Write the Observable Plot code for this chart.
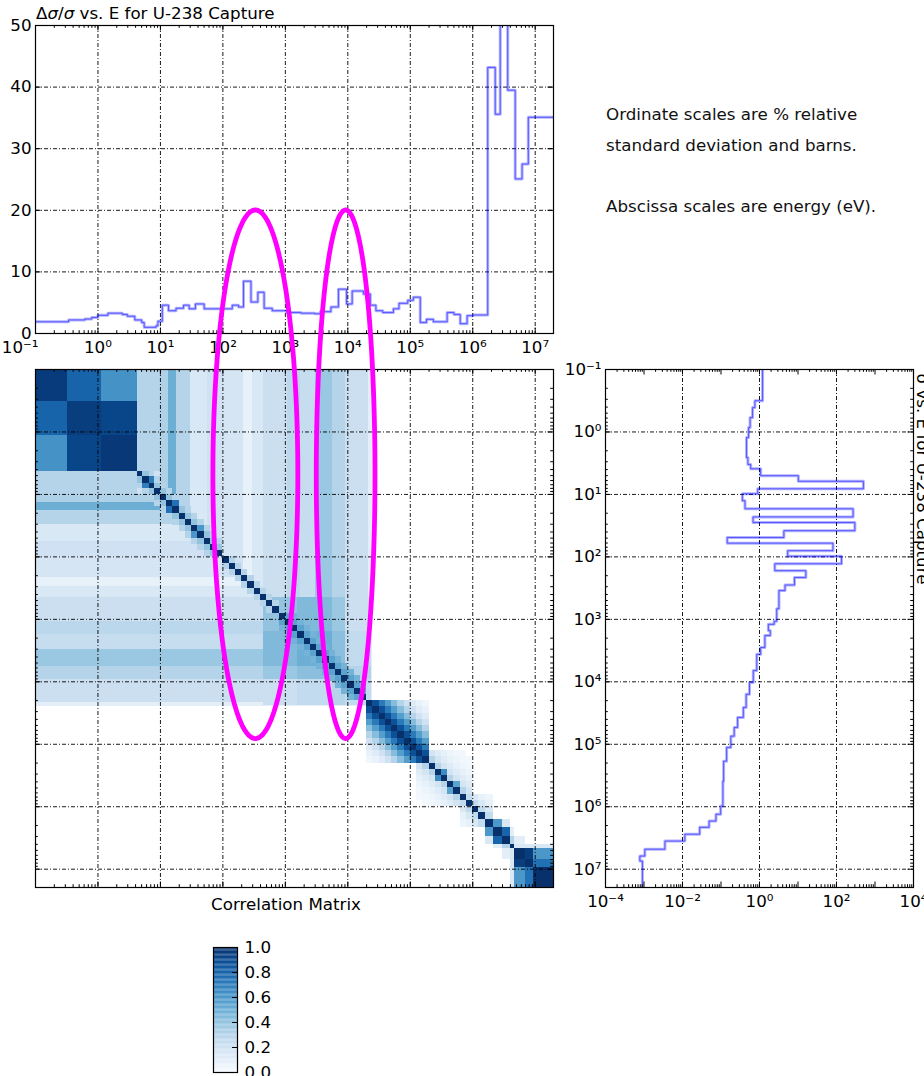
<!DOCTYPE html>
<html><head><meta charset="utf-8">
<script src="https://cdn.jsdelivr.net/npm/d3@7"></script>
<script src="https://cdn.jsdelivr.net/npm/@observablehq/plot@0.6"></script>
<style>
html,body{margin:0;padding:0;background:#fff;overflow:hidden}
#root{position:relative;width:924px;height:1076px;font-family:"DejaVu Sans",sans-serif;color:#000;font-size:16.7px}
.abs{position:absolute}
</style></head><body><div id="root"></div>
<script>
// ================= DATA =================
// Top panel: relative standard deviation (%) of U-238 capture, group edges as log10(E/eV)
const topLogE = [-1, -0.47, -0.21, -0.10, 0, 0.16, 0.39, 0.47, 0.59, 0.70, 0.74, 0.93, 0.96, 1.03, 1.13, 1.25, 1.37, 1.46, 1.56, 1.70, 2.15, 2.25, 2.33, 2.45, 2.56, 2.66, 2.79, 3.02, 3.25, 3.47, 3.56, 3.73, 3.85, 3.98, 4.07, 4.25, 4.36, 4.45, 4.56, 4.73, 4.82, 4.96, 5.05, 5.16, 5.26, 5.37, 5.59, 5.70, 5.80, 5.91, 6.00, 6.24, 6.36, 6.44, 6.56, 6.68, 6.79, 6.89, 7.29];
const topRelStd = [1.9, 2.2, 2.35, 2.6, 2.95, 3.3, 3.1, 2.8, 2.2, 1.8, 1.0, 1.25, 2.0, 4.6, 3.7, 4.1, 4.6, 4.0, 4.8, 4.0, 4.6, 4.3, 8.5, 5.1, 6.7, 4.1, 3.7, 3.4, 3.3, 3.2, 3.55, 4.3, 7.2, 4.8, 6.9, 6.4, 4.6, 3.7, 3.4, 4.0, 4.9, 5.4, 5.9, 1.8, 2.3, 1.9, 3.4, 3.1, 1.6, 2.9, 3.0, 43.2, 35.6, 60, 39.5, 25.1, 27.5, 35.1];

// Right panel: group cross section (barns), group edges as log10(E/eV)
const xsLogE = [-1, -0.50, -0.39, -0.23, -0.07, 0.09, 0.41, 0.52, 0.59, 0.70, 0.79, 0.91, 0.99, 1.10, 1.23, 1.36, 1.45, 1.58, 1.69, 1.78, 1.90, 1.99, 2.11, 2.22, 2.33, 2.45, 2.54, 2.83, 3.03, 3.08, 3.18, 3.26, 3.45, 3.56, 3.82, 4.01, 4.20, 4.41, 4.57, 4.73, 4.87, 5.05, 5.27, 5.59, 5.99, 6.12, 6.23, 6.33, 6.44, 6.55, 6.68, 6.79, 6.87, 7.30];
const xsBarns = [1.2, 0.76, 0.66, 0.57, 0.52, 0.46, 0.50, 0.59, 1.07, 10.2, 500, 0.9, 0.36, 0.42, 270, 0.68, 300, 4.3, 0.145, 81, 5.4, 135, 2.5, 16, 8.1, 4.6, 3.2, 2.8, 2.4, 1.7, 1.9, 1.38, 1.07, 0.85, 0.69, 0.55, 0.45, 0.38, 0.27, 0.22, 0.18, 0.14, 0.117, 0.112, 0.098, 0.074, 0.049, 0.028, 0.0115, 0.0035, 0.00105, 0.00078, 0.00091];

// Correlation matrix (log10 E coordinates)
const corrBackground = [-1, 4.38, 0.2];                     // resolved-region floor: [lo, hi, r]
const bandEdges  = [0.63, 1.0, 1.13, 1.26, 1.48, 1.75, 1.99, 2.33, 2.47, 2.65, 3.03, 3.24, 3.48, 3.75, 3.96, 4.33, 4.40];
const bandValues = [0.3, 0.32, 0.5, 0.3, 0.15, 0.2, 0.17, 0.08, 0.15, 0.22, 0.28, 0.24, 0.38, 0.3, 0.22, 0.1];
const thermalEdges = [-1, -0.49, 0.06, 0.63];
const thermalCorr = [[0.96, 0.8, 0.62], [0.8, 0.95, 0.92], [0.62, 0.92, 0.97]];
const clusterEdges = [2.65, 3.2, 3.75, 3.96, 4.38];
const clusterCorr = [[0.40, 0.45, 0.38, 0.22], [0.45, 0.50, 0.42, 0.25], [0.38, 0.42, 0.40, 0.30], [0.22, 0.25, 0.30, 0.25]];
const groupEdges = [0.63, 0.72, 0.82, 0.91, 1.0, 1.1, 1.2, 1.3, 1.4, 1.5, 1.6, 1.7, 1.8, 1.9, 2.0, 2.1, 2.2, 2.3, 2.4, 2.5, 2.6, 2.7, 2.8, 2.9, 3.0, 3.1, 3.2, 3.3, 3.4, 3.5, 3.6, 3.7, 3.8, 3.9, 4.0, 4.1, 4.2, 4.3, 4.4, 4.5, 4.6, 4.7, 4.8, 4.9, 5.0, 5.1, 5.2, 5.3, 5.4, 5.5, 5.6, 5.7, 5.8, 5.9, 6.0, 6.1, 6.2, 6.33, 6.47, 6.6, 6.67, 6.85, 6.97, 7.29];
// bands hugging the diagonal: [first group, end group, correlation by distance from the diagonal]
const diagBlocks = [
  [0, 14, [1, 0.4, 0.3]],
  [14, 23, [1, 0.3]],
  [23, 37, [1, 0.55, 0.48]],
  [45, 54, [1, 0.3, 0.18, 0.12, 0.08, 0.05, 0.03, 0.02]],
  [37, 47, [1, 0.88, 0.72, 0.57, 0.43, 0.3, 0.2, 0.12, 0.07, 0.04]],
  [52, 57, [1, 0.25, 0.15, 0.08, 0.05]]
];
const groupPairs = [[1, 2, 0.7], [5, 6, 0.75], [9, 10, 0.6], [48, 49, 0.65], [50, 51, 0.55],
  [56, 57, 0.6], [57, 58, 0.8], [56, 58, 0.15], [57, 59, 0.1], [58, 59, 0.3], [58, 60, 0.1],
  [59, 60, 0.15], [59, 61, 0.15], [59, 62, 0.15], [60, 61, 0.95], [60, 62, 0.6], [61, 62, 0.75]];

// Colorbar ticks
const cbarTicks = [0, 0.2, 0.4, 0.6, 0.8, 1.0];

// Annotation ellipses: centre and half-width in decades of energy, vertical extent on the Δσ/σ (%) axis
const ellipseCenterLogE = [2.52, 3.965];
const ellipseHalfWidth = [0.68, 0.47];
const ellipseTopPct = 20.05;
const ellipseBottomPct = -65.75;

// ================= HELPERS =================
const Emin = 0.1, Emax = 10 ** 7.293;
const SUP = {"-": "⁻", "0": "⁰", "1": "¹", "2": "²", "3": "³", "4": "⁴", "5": "⁵", "6": "⁶", "7": "⁷", "8": "⁸", "9": "⁹"};
const pow10 = d => "10" + String(Math.round(Math.log10(d))).split("").map(c => SUP[c]).join("");
const svgStyle = "font-family: 'DejaVu Sans', sans-serif; font-size: 16.7px; background: transparent; overflow: visible; color: #000;";
const gridStyle = {stroke: "#000", strokeWidth: 1, strokeOpacity: 0.9, strokeDasharray: "4,2,1,2"};
const decades = (a, b) => d3.range(a, b + 1).map(e => 10 ** e);
function logMinor(a, b, min, max) {
  const out = [];
  for (let e = a; e <= b; e++) for (let k = 2; k <= 9; k++) { const v = k * 10 ** e; if (v > min && v < max) out.push(v); }
  return out;
}
function frameTicks({xMajor = [], xMinor = [], yMajor = [], yMinor = [], fw, fh, major = 5.5, minor = 2.8}) {
  const s = {stroke: "#000", strokeWidth: 1};
  return [
    Plot.ruleX(xMajor, {...s, insetTop: fh - major}), Plot.ruleX(xMajor, {...s, insetBottom: fh - major}),
    Plot.ruleX(xMinor, {...s, insetTop: fh - minor}), Plot.ruleX(xMinor, {...s, insetBottom: fh - minor}),
    Plot.ruleY(yMajor, {...s, insetLeft: fw - major}), Plot.ruleY(yMajor, {...s, insetRight: fw - major}),
    Plot.ruleY(yMinor, {...s, insetLeft: fw - minor}), Plot.ruleY(yMinor, {...s, insetRight: fw - minor})
  ];
}
const root = document.getElementById("root");
function place(node, left, top, w, h) {
  const d = document.createElement("div");
  d.className = "abs"; d.style.left = left + "px"; d.style.top = top + "px";
  if (w) d.style.width = w + "px"; if (h) d.style.height = h + "px";
  if (typeof node === "string") d.innerHTML = node; else d.appendChild(node);
  root.appendChild(d); return d;
}

// ================= TOP PANEL =================
const topPts = topRelStd.map((v, i) => ({E: 10 ** topLogE[i], v}));
topPts.push({E: 10 ** topLogE[topLogE.length - 1], v: topRelStd[topRelStd.length - 1]});
const topPlot = Plot.plot({
  width: 560, height: 365, marginLeft: 35, marginRight: 7, marginTop: 25, marginBottom: 32,
  style: svgStyle,
  x: {type: "log", domain: [Emin, Emax], ticks: decades(0, 7), tickFormat: pow10, tickSize: 0, tickPadding: 8, label: null},
  y: {domain: [0, 50], ticks: [0, 10, 20, 30, 40, 50], tickSize: 0, tickPadding: 4, label: null},
  marks: [
    Plot.ruleX(decades(0, 7), gridStyle),
    Plot.ruleY([10, 20, 30, 40], gridStyle),
    Plot.line(topPts, {x: "E", y: "v", curve: "step-after", stroke: "#0000ff", strokeOpacity: 0.3, strokeWidth: 3, clip: true}),
    Plot.line(topPts, {x: "E", y: "v", curve: "step-after", stroke: "#0000ff", strokeOpacity: 0.5, strokeWidth: 1, clip: true}),
    ...frameTicks({xMajor: decades(-1, 7), xMinor: logMinor(-1, 7, Emin, Emax), yMajor: [0, 10, 20, 30, 40, 50], fw: 518, fh: 308}),
    Plot.frame({stroke: "#000", strokeWidth: 1.2}),
    Plot.text([Emin], {x: d => d, text: pow10, frameAnchor: "bottom", textAnchor: "end", lineAnchor: "top", dx: 3, dy: 8, fill: "#000"})
  ]
});
place(topPlot, 0, 0, 560, 365);

// ================= MATRIX =================
const cells = [];
const E = L => 10 ** L;
function addCell(cx1, cx2, ry1, ry2, r) { cells.push({x1: E(cx1), x2: E(cx2), y1: E(ry1), y2: E(ry2), r}); }
function addPair(a1, a2, b1, b2, r) { addCell(a1, a2, b1, b2, r); if (a1 !== b1 || a2 !== b2) addCell(b1, b2, a1, a2, r); }
addCell(corrBackground[0], corrBackground[1], corrBackground[0], corrBackground[1], corrBackground[2]);
bandValues.forEach((r, i) => addPair(bandEdges[i], bandEdges[i + 1], -1, bandEdges[i], r));
thermalCorr.forEach((row, i) => row.forEach((r, j) => addCell(thermalEdges[j], thermalEdges[j + 1], thermalEdges[i], thermalEdges[i + 1], r)));
clusterCorr.forEach((row, i) => row.forEach((r, j) => addCell(clusterEdges[j], clusterEdges[j + 1], clusterEdges[i], clusterEdges[i + 1], r)));
for (const [s, e, fall] of diagBlocks) {
  for (let i = s; i < e; i++) for (let j = s; j < e; j++) {
    const d = Math.abs(i - j);
    if (d < fall.length) addCell(groupEdges[j], groupEdges[j + 1], groupEdges[i], groupEdges[i + 1], fall[d]);
  }
}
for (const [i, j, r] of groupPairs) addPair(groupEdges[i], groupEdges[i + 1], groupEdges[j], groupEdges[j + 1], r);
for (let i = 0; i < groupEdges.length - 1; i++) addCell(groupEdges[i], groupEdges[i + 1], groupEdges[i], groupEdges[i + 1], 1);

const colorScale = {type: "linear", domain: [0, 1], scheme: "blues"};
const matPlot = Plot.plot({
  width: 560, height: 580, marginLeft: 35, marginRight: 7, marginTop: 25, marginBottom: 37,
  style: svgStyle,
  x: {type: "log", domain: [Emin, Emax], axis: null},
  y: {type: "log", domain: [Emin, Emax], reverse: true, axis: null},
  color: colorScale,
  marks: [
    Plot.rect(cells, {x1: "x1", x2: "x2", y1: "y1", y2: "y2", fill: "r", shapeRendering: "crispEdges"}),
    Plot.ruleX(decades(0, 7), gridStyle),
    Plot.ruleY(decades(0, 7), gridStyle),
    ...frameTicks({xMajor: decades(-1, 7), xMinor: logMinor(-1, 7, Emin, Emax), yMajor: decades(-1, 7), yMinor: logMinor(-1, 7, Emin, Emax), fw: 518, fh: 518}),
    Plot.frame({stroke: "#000", strokeWidth: 1.2})
  ]
});
place(matPlot, 0, 344, 560, 580);
place("Correlation Matrix", 186, 894, 200).style.textAlign = "center";

// ================= RIGHT PANEL =================
const xsPts = xsBarns.flatMap((s, i) => [{s, E: 10 ** xsLogE[i]}, {s, E: 10 ** xsLogE[i + 1]}]);
const rightPlot = Plot.plot({
  width: 364, height: 580, marginLeft: 45, marginRight: 11, marginTop: 25, marginBottom: 37,
  style: svgStyle,
  x: {type: "log", domain: [1e-4, 1e4], ticks: [1e-4, 1e-2, 1, 1e2, 1e4], tickFormat: pow10, tickSize: 0, tickPadding: 8, label: null},
  y: {type: "log", domain: [Emin, Emax], reverse: true, ticks: decades(-1, 7), tickFormat: pow10, tickSize: 0, tickPadding: 4, label: null},
  marks: [
    Plot.ruleX([1e-2, 1, 1e2], gridStyle),
    Plot.ruleY(decades(0, 7), gridStyle),
    Plot.line(xsPts, {x: "s", y: "E", stroke: "#0000ff", strokeOpacity: 0.3, strokeWidth: 3, clip: true}),
    Plot.line(xsPts, {x: "s", y: "E", stroke: "#0000ff", strokeOpacity: 0.5, strokeWidth: 1, clip: true}),
    ...frameTicks({xMajor: decades(-4, 4), xMinor: logMinor(-4, 3, 1e-4, 1e4), yMajor: decades(-1, 7), yMinor: logMinor(-1, 7, Emin, Emax), fw: 308, fh: 518}),
    Plot.frame({stroke: "#000", strokeWidth: 1.2}),
    Plot.text(["σ vs. E for U-238 Capture"], {text: d => d, frameAnchor: "top-right", rotate: 90, textAnchor: "start", lineAnchor: "bottom", dx: 3, dy: 4, fill: "#000"})
  ]
});
place(rightPlot, 560, 344, 364, 580);

// ================= COLORBAR =================
const cbarSteps = d3.range(0, 1, 0.01);
const cbarPlot = Plot.plot({
  width: 110, height: 146, marginLeft: 23, marginRight: 63, marginTop: 17, marginBottom: 4,
  style: svgStyle,
  x: {domain: [0, 1], axis: null},
  y: {domain: [0, 1], axis: "right", ticks: cbarTicks, tickFormat: d3.format(".1f"), tickSize: 0, tickPadding: 7, label: null},
  color: colorScale,
  marks: [
    Plot.rect(cbarSteps, {x1: 0, x2: 1, y1: d => d, y2: d => Math.min(1, d + 0.0105), fill: d => d + 0.005}),
    Plot.ruleY(cbarTicks.slice(1, -1), {stroke: "#000", insetLeft: 19}),
    Plot.frame({stroke: "#000", strokeWidth: 1.2})
  ]
});
place(cbarPlot, 190, 930, 110, 146);

// ================= TEXTS =================
place('Δ<i>σ</i>/<i>σ</i> vs. E for U-238 Capture', 36, 3);
const notes = place('Ordinate scales are % relative<br>standard deviation and barns.<br><br>Abscissa scales are energy (eV).', 606, 99);
notes.style.lineHeight = "30.5px"; notes.style.whiteSpace = "nowrap"; notes.style.color = "#111";

// ================= ELLIPSE OVERLAY =================
const ellipsePts = [];
ellipseCenterLogE.forEach((c, k) => {
  const yc = (ellipseTopPct + ellipseBottomPct) / 2, b = (ellipseTopPct - ellipseBottomPct) / 2;
  for (let t = 0; t <= 360; t += 2) {
    const a = t * Math.PI / 180;
    ellipsePts.push({id: k, E: 10 ** (c + ellipseHalfWidth[k] * Math.cos(a)), p: yc + b * Math.sin(a)});
  }
});
const ovPlot = Plot.plot({
  width: 560, height: 900, marginLeft: 35, marginRight: 7, marginTop: 25, marginBottom: 0,
  style: svgStyle,
  x: {type: "log", domain: [Emin, Emax], axis: null},
  y: {domain: [50 - 875 / 6.16, 50], axis: null},
  marks: [Plot.line(ellipsePts, {x: "E", y: "p", z: "id", stroke: "#ff00ff", strokeWidth: 4.8})]
});
const ov = place(ovPlot, 0, 0, 560, 900);
ov.style.pointerEvents = "none";
</script></body></html>
